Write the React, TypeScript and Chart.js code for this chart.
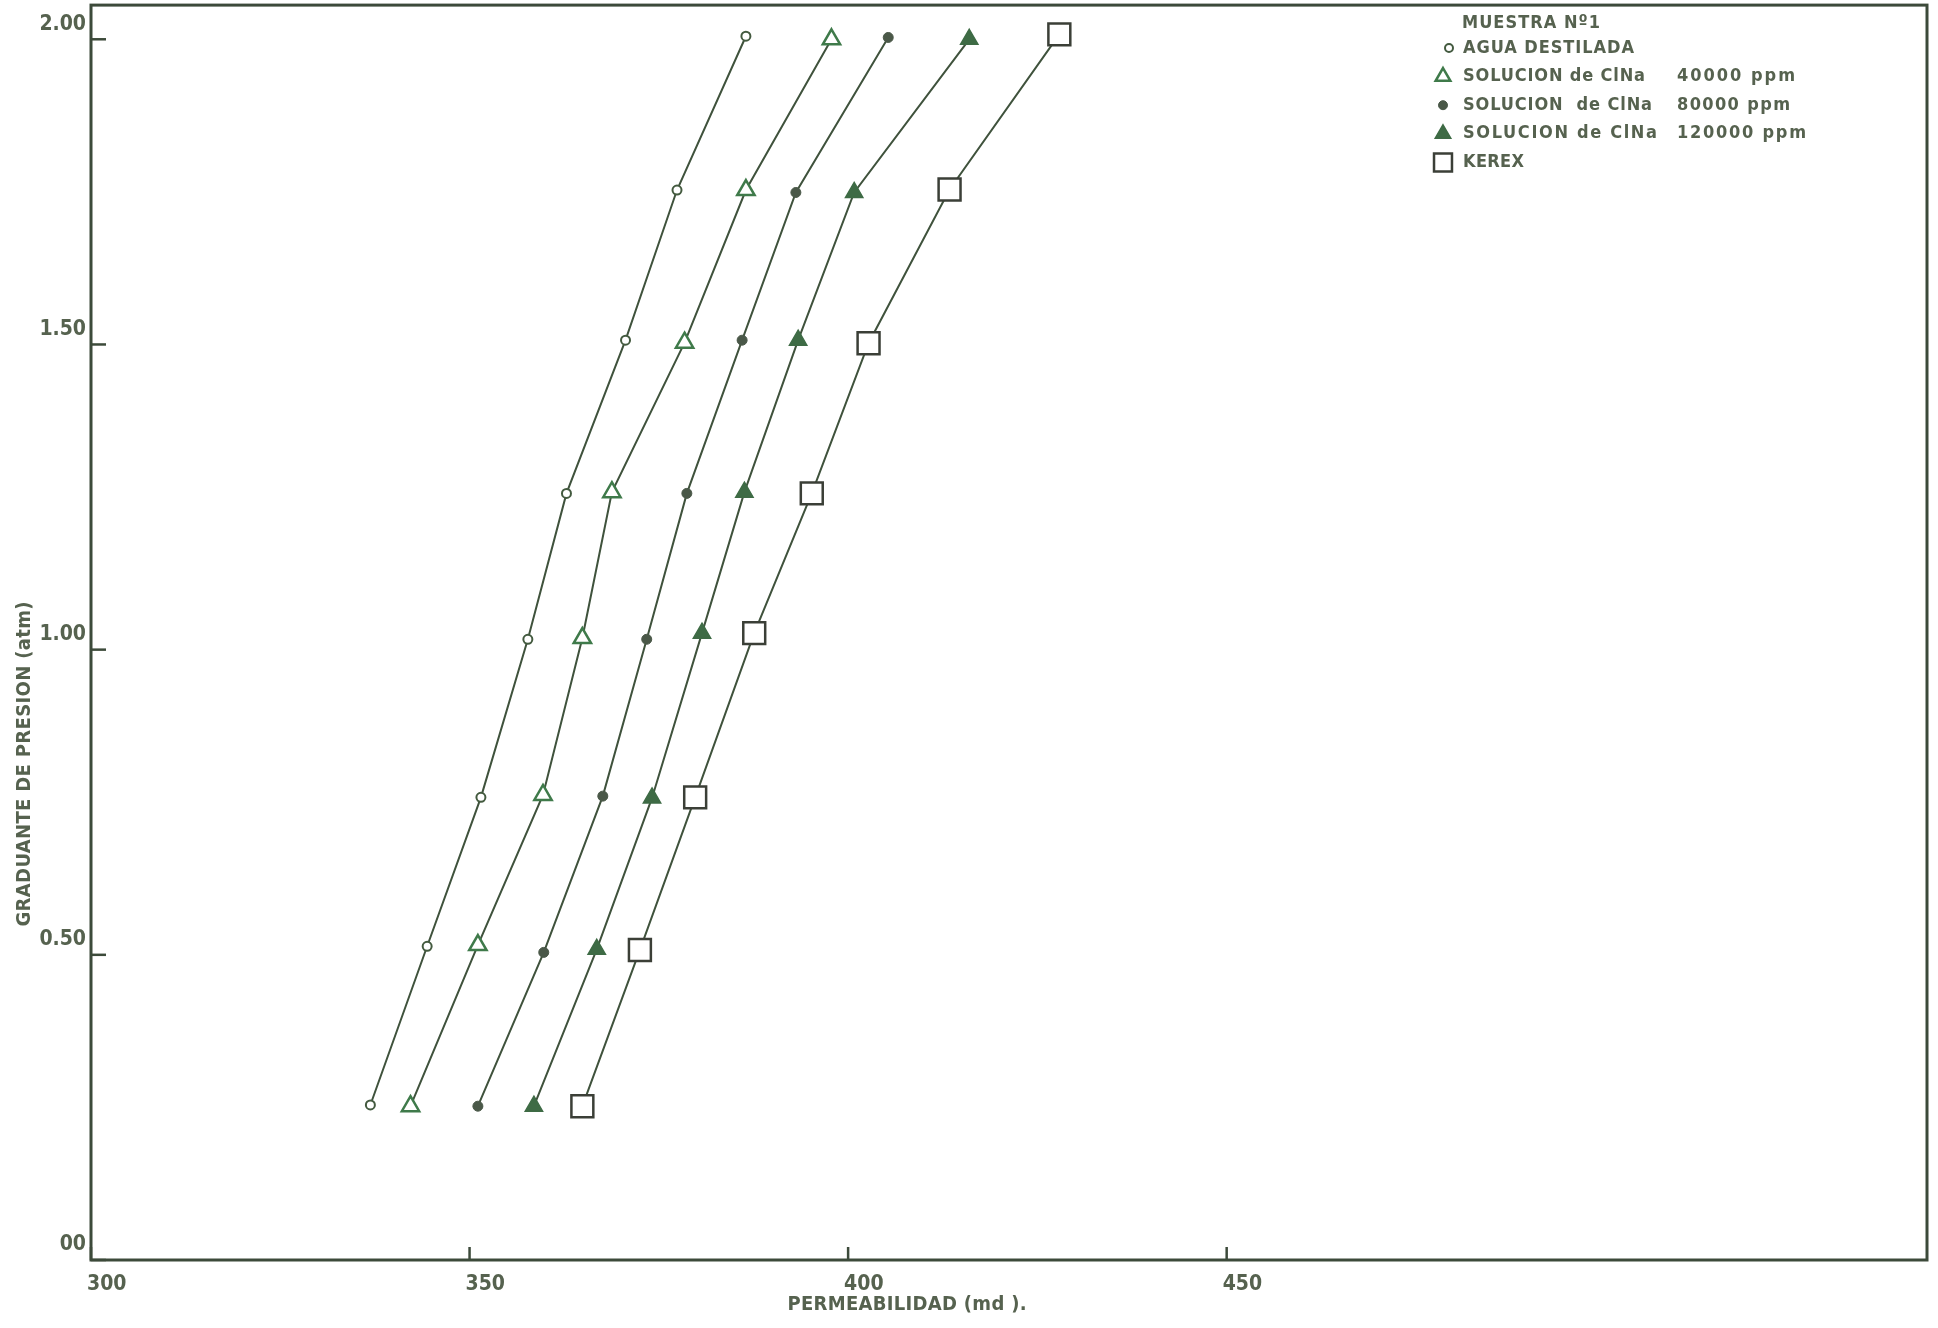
import React, { useEffect, useRef } from "react";
import { Chart, registerables } from "chart.js";

Chart.register(...registerables);

// ---- data ----
const legendTitle = "MUESTRA Nº1";
const seriesNames = ["AGUA DESTILADA", "SOLUCION de ClNa", "SOLUCION  de ClNa", "SOLUCION de ClNa", "KEREX"];
const seriesConc = ["", "40000 ppm", "80000 ppm", "120000 ppm", ""];

const xAgua = [336.9, 344.4, 351.5, 357.7, 362.8, 370.6, 377.4, 386.5];
const yAgua = [0.254, 0.514, 0.758, 1.017, 1.256, 1.507, 1.753, 2.005];
const xCl40 = [342.2, 351.1, 359.7, 364.9, 368.8, 378.4, 386.5, 397.8];
const yCl40 = [0.252, 0.516, 0.762, 1.019, 1.258, 1.503, 1.753, 2.0];
const xCl80 = [351.1, 359.8, 367.6, 373.4, 378.7, 386.0, 393.1, 405.3];
const yCl80 = [0.252, 0.504, 0.76, 1.017, 1.256, 1.507, 1.749, 2.003];
const xCl120 = [358.5, 366.8, 374.1, 380.7, 386.3, 393.4, 400.8, 416.0];
const yCl120 = [0.252, 0.509, 0.757, 1.027, 1.258, 1.507, 1.749, 2.0];
const xKerex = [364.9, 372.5, 379.8, 387.6, 395.2, 402.7, 413.4, 427.9];
const yKerex = [0.252, 0.508, 0.758, 1.027, 1.256, 1.502, 1.754, 2.008];

const xTickValues = [300, 350, 400, 450];
const xTickLabels = ["300", "350", "400", "450"];
const yTickValues = [0, 0.5, 1.0, 1.5, 2.0];
const yTickLabels = ["00", "0.50", "1.00", "1.50", "2.00"];

const xTitle = "PERMEABILIDAD (md ).";
const yTitle = "GRADUANTE DE PRESION (atm)";

// ---- styles ----
const FONT = '"DejaVu Sans Condensed", "Liberation Sans Narrow", "DejaVu Sans", sans-serif';
const INK = "#3c4a3a";
const LINE = "#3f523c";
const TEXT = "#56624f";

const markerStyles = [
  { shape: "circle", r: 4.5, fill: "#ffffff", stroke: "#435a3f", bw: 2, lr: 4 },
  { shape: "triangle", r: 10, fill: "#ffffff", stroke: "#3f7a4a", bw: 2.5, lr: 8.5 },
  { shape: "circle", r: 5, fill: "#4a5848", stroke: "#4a5848", bw: 1, lr: 4.5 },
  { shape: "triangle", r: 10, fill: "#3e6b45", stroke: "#3e6b45", bw: 1.5, lr: 9 },
  { shape: "rect", r: 15.5, fill: "#ffffff", stroke: "#3b3f37", bw: 2.5, lr: 12.7 },
];

const seriesX = [xAgua, xCl40, xCl80, xCl120, xKerex];
const seriesY = [yAgua, yCl40, yCl80, yCl120, yKerex];

function toPoints(xs: number[], ys: number[]) {
  return xs.map((x, i) => ({ x, y: ys[i] }));
}

function drawMarker(ctx: CanvasRenderingContext2D, s: any, x: number, y: number, r: number) {
  ctx.beginPath();
  if (s.shape === "circle") {
    ctx.arc(x, y, r, 0, Math.PI * 2);
  } else if (s.shape === "triangle") {
    ctx.moveTo(x, y - r);
    ctx.lineTo(x + 0.866 * r, y + 0.5 * r);
    ctx.lineTo(x - 0.866 * r, y + 0.5 * r);
    ctx.closePath();
  } else {
    const h = r * Math.SQRT1_2;
    ctx.rect(x - h, y - h, 2 * h, 2 * h);
  }
  ctx.fillStyle = s.fill;
  ctx.fill();
  ctx.lineWidth = s.bw;
  ctx.strokeStyle = s.stroke;
  ctx.stroke();
}

function spacedText(ctx: any, text: string, x: number, y: number, width: number, center: boolean) {
  ctx.letterSpacing = "0px";
  const w0 = ctx.measureText(text).width;
  const ls = (width - w0) / Math.max(1, text.length - 1);
  ctx.letterSpacing = ls + "px";
  ctx.textAlign = "left";
  ctx.fillText(text, center ? x - width / 2 : x, y);
  ctx.letterSpacing = "0px";
}

const legendNameWidths = [171, 182, 189, 194, 61];
const legendConcWidths = [0, 118, 113, 129, 0];

const decorPlugin = {
  id: "decor",
  afterDraw(chart: any) {
    const { ctx, chartArea: a, scales } = chart;
    const xs = scales.x;
    const ys = scales.y;
    ctx.save();
    // frame
    ctx.strokeStyle = INK;
    ctx.lineWidth = 3;
    ctx.strokeRect(a.left, a.top, a.right - a.left, a.bottom - a.top);
    // inward tick marks
    ctx.lineWidth = 2.5;
    yTickValues.forEach((v) => {
      const p = ys.getPixelForValue(v);
      ctx.beginPath();
      ctx.moveTo(a.left, p);
      ctx.lineTo(a.left + 15, p);
      ctx.stroke();
    });
    xTickValues.forEach((v) => {
      const p = xs.getPixelForValue(v);
      ctx.beginPath();
      ctx.moveTo(p, a.bottom);
      ctx.lineTo(p, a.bottom - 13);
      ctx.stroke();
    });

    // axis titles
    ctx.fillStyle = TEXT;
    ctx.textBaseline = "middle";
    ctx.font = "bold 20px " + FONT;
    spacedText(ctx, xTitle, 907, 1305, 239, true);
    ctx.save();
    ctx.translate(25, 764);
    ctx.rotate(-Math.PI / 2);
    spacedText(ctx, yTitle, 0, 0, 325, true);
    ctx.restore();

    // legend
    ctx.font = "bold 18px " + FONT;
    ctx.fillStyle = TEXT;
    spacedText(ctx, legendTitle, 1462, 23, 138, false);
    seriesNames.forEach((name, i) => {
      const y = 48 + i * 28.6;
      const s = markerStyles[i];
      drawMarker(ctx, s, i === 0 ? 1449 : 1443, y, s.lr);
      ctx.fillStyle = TEXT;
      ctx.font = "bold 18px " + FONT;
      spacedText(ctx, name, 1463, y, legendNameWidths[i], false);
      if (seriesConc[i]) {
        spacedText(ctx, seriesConc[i], 1677, y, legendConcWidths[i], false);
      }
    });
    ctx.restore();
  },
};

export default function App() {
  const ref = useRef<HTMLCanvasElement | null>(null);
  useEffect(() => {
    if (!ref.current) return;
    const chart = new Chart(ref.current, {
      type: "scatter",
      data: {
        datasets: seriesNames.map((name, i) => ({
          label: seriesConc[i] ? name + " " + seriesConc[i] : name,
          data: toPoints(seriesX[i], seriesY[i]),
          showLine: true,
          borderColor: LINE,
          borderWidth: 2,
          pointStyle: markerStyles[i].shape as any,
          pointRadius: markerStyles[i].r,
          pointBackgroundColor: markerStyles[i].fill,
          pointBorderColor: markerStyles[i].stroke,
          pointBorderWidth: markerStyles[i].bw,
          tension: 0,
          clip: false as any,
        })),
      },
      options: {
        animation: false,
        responsive: false,
        devicePixelRatio: 1,
        layout: { autoPadding: false, padding: { left: 0, top: 5, right: 11, bottom: 0 } },
        plugins: { legend: { display: false }, tooltip: { enabled: false } },
        scales: {
          x: {
            type: "linear",
            min: 300,
            max: 542.5,
            afterBuildTicks: (scale: any) => {
              scale.ticks = xTickValues.map((v) => ({ value: v }));
            },
            afterFit: (scale: any) => {
              scale.height = 68;
            },
            grid: { display: false, drawTicks: false },
            border: { display: false },
            ticks: {
              align: "start",
              padding: 12,
              labelOffset: -4,
              color: TEXT,
              font: { family: FONT, size: 21, weight: "bold" },
              callback: (v: any) => {
                const i = xTickValues.indexOf(Number(v));
                return i >= 0 ? xTickLabels[i] : "";
              },
            },
          },
          y: {
            type: "linear",
            min: 0,
            max: 2.056,
            afterBuildTicks: (scale: any) => {
              scale.ticks = yTickValues.map((v) => ({ value: v }));
            },
            afterFit: (scale: any) => {
              scale.width = 91;
            },
            grid: { display: false, drawTicks: false },
            border: { display: false },
            ticks: {
              padding: 5,
              labelOffset: -15,
              color: TEXT,
              font: { family: FONT, size: 21, weight: "bold", lineHeight: 0.01 },
              callback: (v: any) => {
                const i = yTickValues.indexOf(Number(v));
                return i >= 0 ? yTickLabels[i] : "";
              },
            },
          },
        },
      },
      plugins: [decorPlugin],
    });
    return () => chart.destroy();
  }, []);
  return (
    <div style={{ position: "fixed", left: 0, top: 0, width: 1938, height: 1328, background: "#ffffff" }}>
      <canvas ref={ref} width={1938} height={1328} style={{ display: "block" }} />
    </div>
  );
}
